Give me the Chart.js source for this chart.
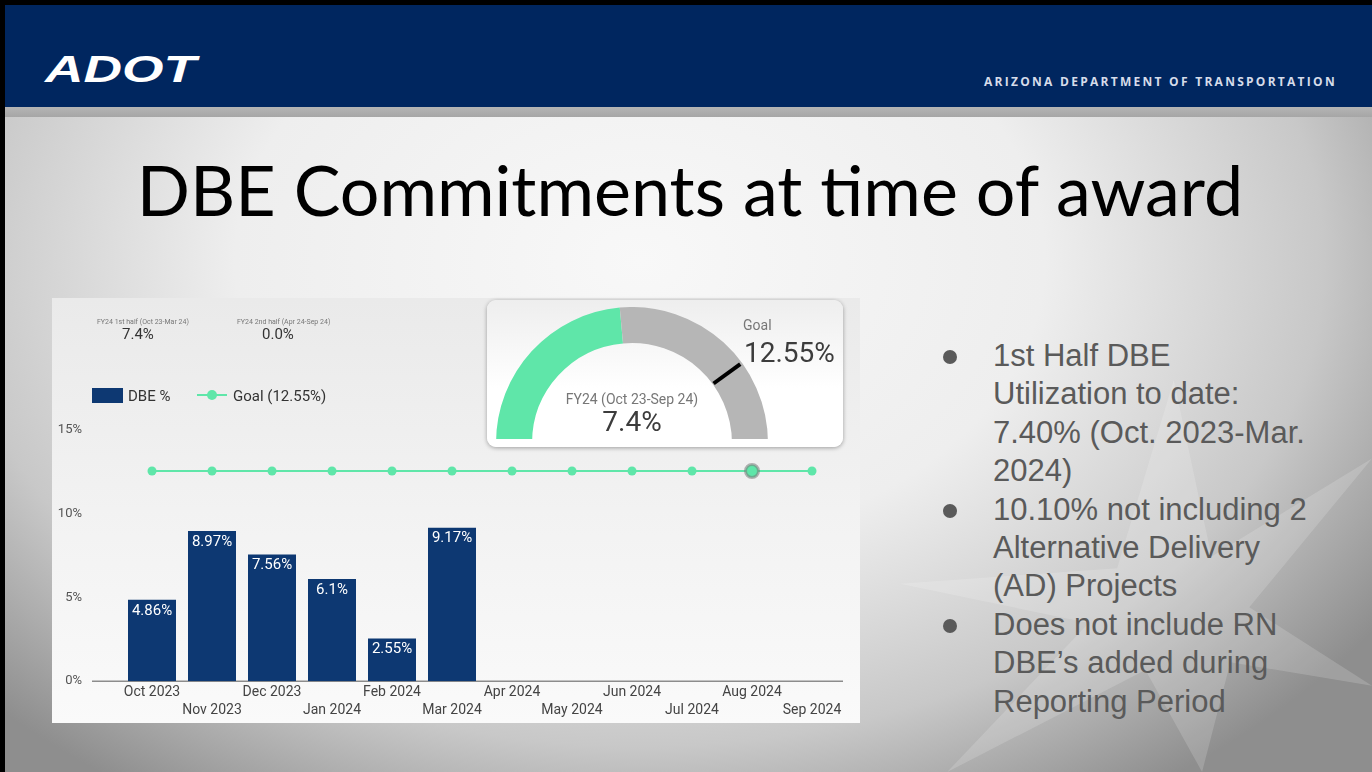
<!DOCTYPE html>
<html>
<head>
<meta charset="utf-8">
<title>DBE Commitments at time of award</title>
<script src="https://cdn.jsdelivr.net/npm/chart.js@4.4.1/dist/chart.umd.min.js"></script>
<style>
  body { margin: 0; width: 1372px; height: 772px; overflow: hidden; position: relative; font-family: Roboto, sans-serif; }
  .abs { position: absolute; }
  #bg { left: 0; top: 0; width: 1372px; height: 772px;
        background: radial-gradient(ellipse 900px 640px at 640px 260px, #f8f8f8 0%, #eeeeee 45%, #c8c8c8 76%, #8e8e8e 100%); }
  .ray { background: rgba(255,255,255,0.16); }
  #topbar { left: 0; top: 0; width: 1372px; height: 5px; background: #000; }
  #leftbar { left: 0; top: 0; width: 5px; height: 772px; background: #000; }
  #header { left: 5px; top: 5px; width: 1367px; height: 102px; background: #00265f; }
  #stripe { left: 5px; top: 107px; width: 1367px; height: 10px; background: linear-gradient(#b5b5b5, #a6a6a6); }
  #logo { left: 45px; top: 50px; color: #fff; font: italic bold 36px "Liberation Sans"; line-height: 40px;
          transform-origin: left top; transform: scaleX(1.48); }
  #dept { left: 984px; top: 73px; color: #d6dcea; font: bold 12px "Open Sans"; letter-spacing: 2.27px; white-space: nowrap; }
  #title { left: 0; top: 147px; width: 1380px; text-align: center; font: 70px Lato; line-height: 84px; color: #000; }

  #panel { left: 52px; top: 298px; width: 808px; height: 425px; background: linear-gradient(#eaeaea, #fafafa); }
  #barChart { position: absolute; left: 0; top: 0; }
  .small { font-size: 7px; color: #777; white-space: nowrap; }
  .stat { font-size: 15px; color: #333; white-space: nowrap; }
  .leg { font-size: 15px; color: #333; white-space: nowrap; line-height: 18px; }

  #card { left: 435px; top: 2px; width: 356px; height: 147px; border-radius: 9px;
          background: linear-gradient(#eeeeee, #ffffff 60%); box-shadow: 0 1px 4px rgba(0,0,0,0.35); }
  #gaugeWrap { left: 444px; top: 9px; width: 272px; height: 132px; overflow: hidden; }
  .glabel { color: #777; font-size: 14px; white-space: nowrap; }
  .gvalue { color: #3c3c3c; font-size: 28px; white-space: nowrap; }

  #bullets { left: 993px; top: 337px; font: 31px "Liberation Sans"; line-height: 38.4px; color: #5a5a5a; white-space: nowrap; }
  .dot { width: 14px; height: 14px; border-radius: 50%; background: #5a5a5a; }
</style>
</head>
<body>
<div id="bg" class="abs"></div>
<div class="abs ray" style="left:900px;top:380px;width:472px;height:392px;clip-path:polygon(58% 0,66% 45%,100% 20%,74% 58%,100% 78%,70% 72%,64% 100%,52% 74%,10% 100%,40% 62%,0 52%,46% 48%);"></div>
<div id="topbar" class="abs"></div>
<div id="header" class="abs"></div>
<div id="stripe" class="abs"></div>
<div id="leftbar" class="abs"></div>
<div id="logo" class="abs">ADOT</div>
<div id="dept" class="abs">ARIZONA DEPARTMENT OF TRANSPORTATION</div>
<div id="title" class="abs">DBE Commitments at time of award</div>

<div id="panel" class="abs">
  <canvas id="barChart" width="808" height="431"></canvas>
  <div id="stats"></div>
  <div class="abs" style="left:40px;top:90px;width:31px;height:15px;background:#0d3872;"></div>
  <div class="abs leg" style="left:76px;top:89px;">DBE %</div>
  <div class="abs" style="left:145px;top:96px;width:30px;height:2px;background:#5fe6a9;"></div>
  <div class="abs" style="left:155px;top:92px;width:10px;height:10px;border-radius:50%;background:#5fe6a9;"></div>
  <div class="abs leg" style="left:181px;top:89px;">Goal (12.55%)</div>

  <div id="card" class="abs"></div>
  <div id="gaugeWrap" class="abs"><canvas id="gauge" width="272" height="136"></canvas></div>
  <div class="abs glabel" style="left:513px;top:93px;width:134px;text-align:center;">FY24 (Oct 23-Sep 24)</div>
  <div class="abs gvalue" style="left:530px;top:107px;width:100px;text-align:center;" id="gaugeText"></div>
  <div class="abs glabel" style="left:691px;top:19px;">Goal</div>
  <div class="abs gvalue" style="left:692px;top:38px;" id="goalText"></div>
</div>

<div class="abs dot" style="left:943px;top:350px;"></div>
<div class="abs dot" style="left:943px;top:504px;"></div>
<div class="abs dot" style="left:943px;top:619px;"></div>
<div id="bullets" class="abs">1st Half DBE<br>Utilization to date:<br>7.40% (Oct. 2023-Mar.<br>2024)<br>10.10% not including 2<br>Alternative Delivery<br>(AD) Projects<br>Does not include RN<br>DBE’s added during<br>Reporting Period</div>

<script>
const months = ["Oct 2023", "Nov 2023", "Dec 2023", "Jan 2024", "Feb 2024", "Mar 2024",
                "Apr 2024", "May 2024", "Jun 2024", "Jul 2024", "Aug 2024", "Sep 2024"];
const dbePct = [4.86, 8.97, 7.56, 6.1, 2.55, 9.17, null, null, null, null, null, null];
const goalPct = [12.55, 12.55, 12.55, 12.55, 12.55, 12.55, 12.55, 12.55, 12.55, 12.55, 12.55, 12.55];
const yTicks = [0, 5, 10, 15];

const halfLabels = ["FY24 1st half (Oct 23-Mar 24)", "FY24 2nd half (Apr 24-Sep 24)"];
const halfValues = [7.4, 0.0];

const gaugeValue = 7.4;
const gaugeGoal = 12.55;
const gaugeMax = 15.7; // estimated from the arc split

const navy = "#0d3872";
const mint = "#5fe6a9";
const highlighted = 10; // Aug 2024 point shows a hover ring

// half-year numbers at the top left
const statPos = [[45, 70], [185, 210]];
document.getElementById("stats").innerHTML = halfLabels.map((t, i) =>
  '<div class="abs small" style="left:' + statPos[i][0] + 'px;top:20px;">' + t + '</div>' +
  '<div class="abs stat" style="left:' + statPos[i][1] + 'px;top:27px;">' + halfValues[i].toFixed(1) + '%</div>'
).join("");
document.getElementById("gaugeText").textContent = gaugeValue + "%";
document.getElementById("goalText").textContent = gaugeGoal + "%";

// white value labels inside the top of each bar
const barLabels = {
  id: "barLabels",
  afterDatasetsDraw(chart) {
    const ctx = chart.ctx;
    const meta = chart.getDatasetMeta(1);
    ctx.save();
    ctx.fillStyle = "#fff";
    ctx.font = "15px Roboto";
    ctx.textAlign = "center";
    ctx.textBaseline = "middle";
    meta.data.forEach((bar, i) => {
      if (dbePct[i] == null) return;
      ctx.fillText(dbePct[i] + "%", bar.x, bar.y + 11);
    });
    ctx.restore();
  }
};

// zero line starts left of the first category
const baseline = {
  id: "baseline",
  beforeDatasetsDraw(chart) {
    const { ctx, chartArea, scales } = chart;
    const y = scales.y.getPixelForValue(0);
    ctx.save();
    ctx.strokeStyle = "#8c8c8c";
    ctx.lineWidth = 1.5;
    ctx.beginPath();
    ctx.moveTo(chartArea.left - 30, y);
    ctx.lineTo(chartArea.right + 1, y);
    ctx.stroke();
    ctx.restore();
  }
};

new Chart(document.getElementById("barChart"), {
  data: {
    labels: months,
    datasets: [
      {
        type: "line",
        label: "Goal (12.55%)",
        data: goalPct,
        borderColor: mint,
        backgroundColor: mint,
        borderWidth: 2,
        pointRadius: months.map((m, i) => i === highlighted ? 6.5 : 4.5),
        pointBackgroundColor: mint,
        pointBorderColor: months.map((m, i) => i === highlighted ? "rgba(120,120,120,0.55)" : mint),
        pointBorderWidth: months.map((m, i) => i === highlighted ? 3 : 0),
        order: 0
      },
      {
        type: "bar",
        label: "DBE %",
        data: dbePct,
        backgroundColor: navy,
        barPercentage: 0.8,
        categoryPercentage: 1,
        order: 1
      }
    ]
  },
  options: {
    responsive: false,
    animation: false,
    layout: { padding: { left: 0, right: 18, top: 132, bottom: 0 } },
    plugins: { legend: { display: false }, tooltip: { enabled: false } },
    scales: {
      x: {
        grid: { display: false, drawTicks: false },
        border: { display: false },
        ticks: {
          autoSkip: false,
          maxRotation: 0,
          color: "#444",
          padding: 2,
          font: { family: "Roboto", size: 14, lineHeight: "18px" },
          callback: (v, i) => i % 2 ? ["", months[i]] : months[i]
        },
        afterFit: s => { s.height = 37; }
      },
      y: {
        min: yTicks[0],
        max: yTicks[yTicks.length - 1],
        grid: { display: false, drawTicks: false },
        border: { display: false },
        ticks: {
          stepSize: 5,
          color: "#555",
          padding: 40,
          font: { family: "Roboto", size: 13 },
          callback: v => v + "%"
        },
        afterFit: s => { s.width = 70; },
        afterBuildTicks: s => { s.ticks = yTicks.map(v => ({ value: v })); }
      }
    }
  },
  plugins: [barLabels, baseline]
});

// black tick on the gauge at the goal value
const goalMarker = {
  id: "goalMarker",
  afterDatasetsDraw(chart) {
    const arc = chart.getDatasetMeta(0).data[0];
    const a = Math.PI + Math.PI * gaugeGoal / gaugeMax;
    const ctx = chart.ctx;
    ctx.save();
    ctx.strokeStyle = "#000";
    ctx.lineWidth = 4;
    ctx.beginPath();
    ctx.moveTo(arc.x + (arc.innerRadius + 1) * Math.cos(a), arc.y + (arc.innerRadius + 1) * Math.sin(a));
    ctx.lineTo(arc.x + (arc.outerRadius - 2) * Math.cos(a), arc.y + (arc.outerRadius - 2) * Math.sin(a));
    ctx.stroke();
    ctx.restore();
  }
};

new Chart(document.getElementById("gauge"), {
  type: "doughnut",
  data: {
    datasets: [{
      data: [gaugeValue, gaugeMax - gaugeValue],
      backgroundColor: [mint, "#b6b6b6"],
      borderWidth: 0
    }]
  },
  options: {
    responsive: false,
    animation: false,
    rotation: -90,
    circumference: 180,
    cutout: "73.5%",
    plugins: { legend: { display: false }, tooltip: { enabled: false } }
  },
  plugins: [goalMarker]
});
</script>
</body>
</html>
